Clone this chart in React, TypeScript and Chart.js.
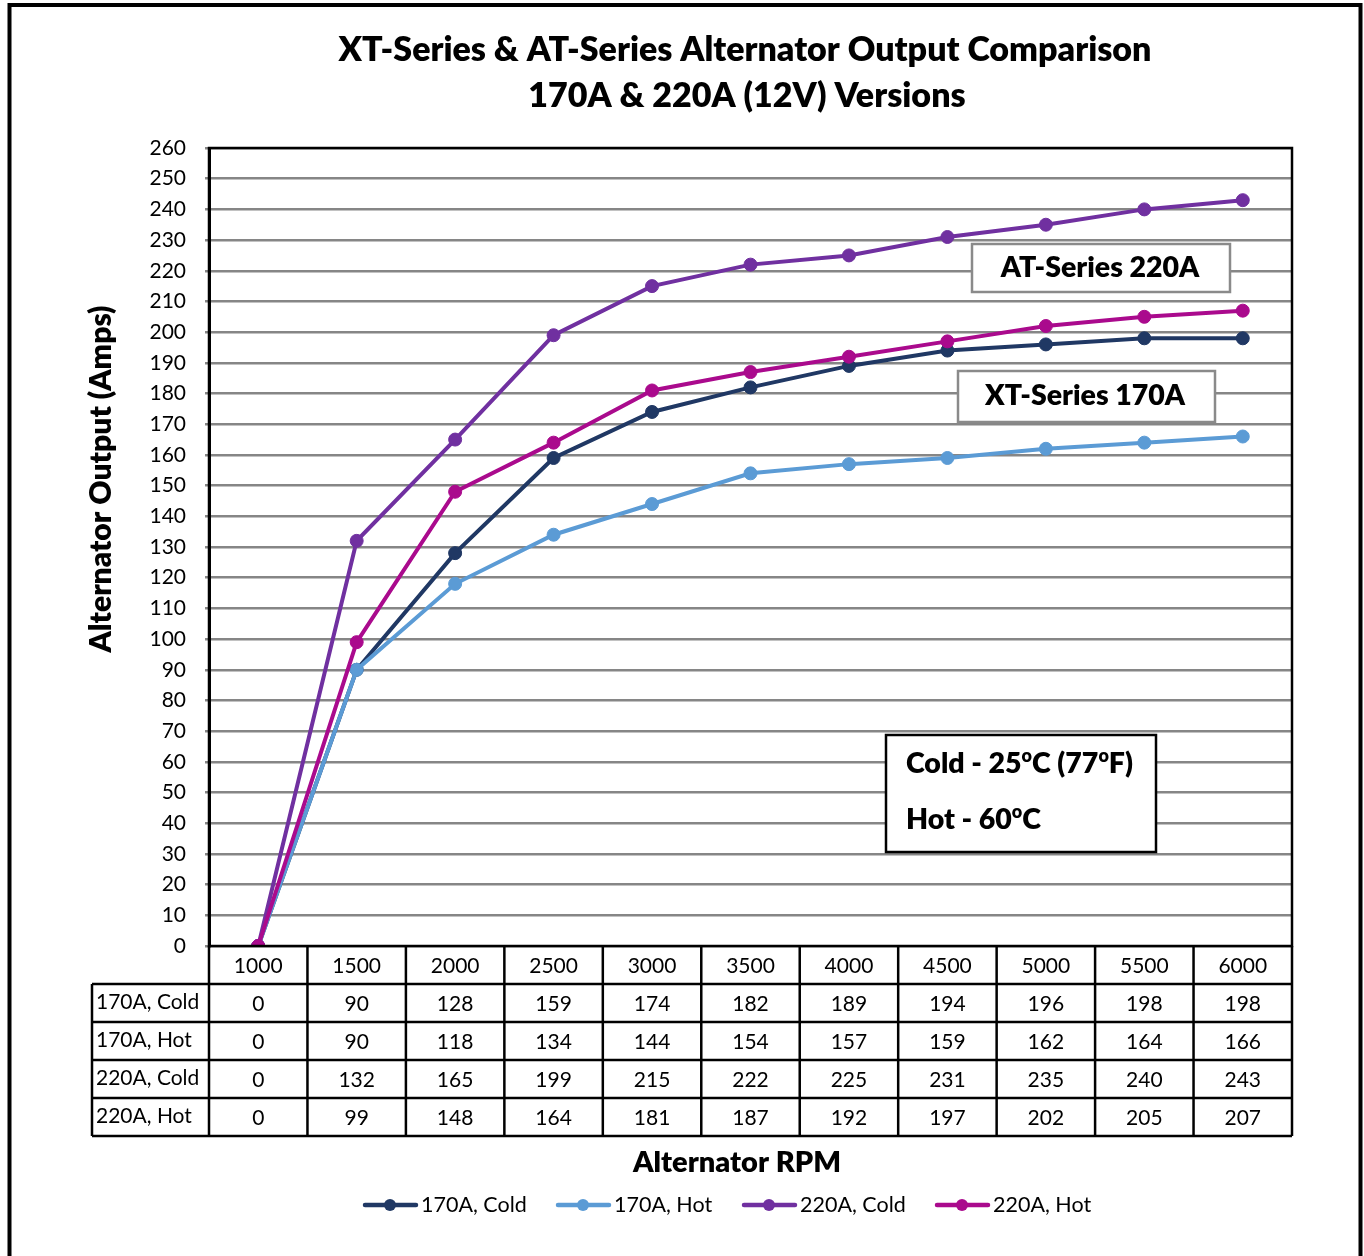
import React, { useEffect, useRef } from "react";
import { Chart, registerables } from "chart.js";

Chart.register(...registerables);

const categories = ["1000", "1500", "2000", "2500", "3000", "3500", "4000", "4500", "5000", "5500", "6000"];
const seriesNames = ["170A, Cold", "170A, Hot", "220A, Cold", "220A, Hot"];
const cold170 = [0, 90, 128, 159, 174, 182, 189, 194, 196, 198, 198];
const hot170 = [0, 90, 118, 134, 144, 154, 157, 159, 162, 164, 166];
const cold220 = [0, 132, 165, 199, 215, 222, 225, 231, 235, 240, 243];
const hot220 = [0, 99, 148, 164, 181, 187, 192, 197, 202, 205, 207];
const seriesColors = ["#203864", "#5B9BD5", "#7030A0", "#AA0A8D"];
const titleLines = ["XT-Series & AT-Series Alternator Output Comparison", "170A & 220A (12V) Versions"];
const yTitle = "Alternator Output (Amps)";
const xTitle = "Alternator RPM";
const yMin = 0;
const yMax = 260;
const yStep = 10;

const FONT = "Lato, 'Open Sans', sans-serif";
const BOLD = "800";

type Part = { t: string; sup?: boolean };

function drawRich(ctx: CanvasRenderingContext2D, parts: Part[], x: number, y: number, size: number) {
  let cx = x;
  ctx.textAlign = "left";
  ctx.textBaseline = "middle";
  for (const p of parts) {
    if (p.sup) {
      ctx.font = `${BOLD} ${Math.round(size * 0.62)}px ${FONT}`;
      ctx.fillText(p.t, cx, y - size * 0.28);
    } else {
      ctx.font = `${BOLD} ${size}px ${FONT}`;
      ctx.fillText(p.t, cx, y);
    }
    cx += ctx.measureText(p.t).width;
  }
}

const decorPlugin = {
  id: "decor",
  afterDraw(chart: any) {
    const ctx: CanvasRenderingContext2D = chart.ctx;
    const ca = chart.chartArea;
    const xs = chart.scales.x;
    ctx.save();

    // plot border
    ctx.strokeStyle = "#000";
    ctx.lineWidth = 2.5;
    ctx.strokeRect(ca.left, ca.top, ca.right - ca.left, ca.bottom - ca.top);

    // title
    ctx.fillStyle = "#000";
    ctx.textAlign = "center";
    ctx.textBaseline = "middle";
    ctx.font = `${BOLD} 34px ${FONT}`;
    ctx.fillText(titleLines[0], 745, 50);
    ctx.fillText(titleLines[1], 747, 96);

    // y title
    ctx.save();
    ctx.translate(101, 479);
    ctx.rotate(-Math.PI / 2);
    ctx.font = `${BOLD} 30px ${FONT}`;
    ctx.fillText(yTitle, 0, 0);
    ctx.restore();

    // data table
    const n = categories.length;
    const colW = (ca.right - ca.left) / n;
    const rowH = 38;
    const top = ca.bottom;
    const labelLeft = 92;
    const rows = [cold170, hot170, cold220, hot220];
    ctx.strokeStyle = "#000";
    ctx.lineWidth = 2.5;
    ctx.beginPath();
    for (let i = 0; i <= n; i++) {
      const x = ca.left + i * colW;
      ctx.moveTo(x, top);
      ctx.lineTo(x, top + rowH * 5);
    }
    ctx.moveTo(labelLeft, top + rowH);
    ctx.lineTo(labelLeft, top + rowH * 5);
    for (let r = 1; r <= 5; r++) {
      ctx.moveTo(labelLeft, top + rowH * r);
      ctx.lineTo(ca.right, top + rowH * r);
    }
    ctx.stroke();

    ctx.font = `21px ${FONT}`;
    ctx.textAlign = "center";
    ctx.textBaseline = "middle";
    for (let i = 0; i < n; i++) {
      const cx = xs.getPixelForValue(i);
      ctx.fillText(categories[i], cx, top + rowH * 0.5 + 1);
      for (let r = 0; r < rows.length; r++) {
        ctx.fillText(String(rows[r][i]), cx, top + rowH * (r + 1.5) + 1);
      }
    }
    ctx.textAlign = "left";
    for (let r = 0; r < rows.length; r++) {
      ctx.fillText(seriesNames[r], labelLeft + 4, top + rowH * (r + 1.5) - 1);
    }

    // x title
    ctx.textAlign = "center";
    ctx.font = `${BOLD} 29px ${FONT}`;
    ctx.fillText(xTitle, 737, 1163);

    // legend
    const legendX = [363, 556, 742, 935];
    ctx.font = `21.5px ${FONT}`;
    ctx.textAlign = "left";
    for (let i = 0; i < 4; i++) {
      const lx = legendX[i];
      ctx.strokeStyle = seriesColors[i];
      ctx.lineWidth = 4.5;
      ctx.lineCap = "round";
      ctx.beginPath();
      ctx.moveTo(lx + 2, 1205);
      ctx.lineTo(lx + 53, 1205);
      ctx.stroke();
      ctx.fillStyle = seriesColors[i];
      ctx.beginPath();
      ctx.arc(lx + 27, 1205, 6, 0, Math.PI * 2);
      ctx.fill();
      ctx.fillStyle = "#000";
      ctx.fillText(seriesNames[i], lx + 58, 1205);
    }
    ctx.lineCap = "butt";

    // label boxes
    const box = (x: number, y: number, w: number, h: number, color: string, lw: number) => {
      ctx.fillStyle = "#fff";
      ctx.fillRect(x, y, w, h);
      ctx.strokeStyle = color;
      ctx.lineWidth = lw;
      ctx.strokeRect(x, y, w, h);
    };
    box(972, 244, 258, 48, "#8a8a8a", 2.5);
    box(958, 371, 257, 51, "#8a8a8a", 2.5);
    box(886, 735, 270, 117, "#000", 2.5);
    ctx.fillStyle = "#000";
    ctx.textAlign = "center";
    ctx.textBaseline = "middle";
    ctx.font = `${BOLD} 28.5px ${FONT}`;
    ctx.fillText("AT-Series 220A", 1100, 268);
    ctx.fillText("XT-Series 170A", 1085, 396);
    drawRich(ctx, [{ t: "Cold - 25" }, { t: "o", sup: true }, { t: "C (77" }, { t: "o", sup: true }, { t: "F)" }], 906, 764, 28.5);
    drawRich(ctx, [{ t: "Hot - 60" }, { t: "o", sup: true }, { t: "C" }], 906, 820, 28.5);

    // outer frame
    ctx.strokeStyle = "#000";
    ctx.lineWidth = 4;
    ctx.strokeRect(9.5, 5, 1351, 1270);

    ctx.restore();
  },
};

export default function App() {
  const ref = useRef<HTMLCanvasElement | null>(null);
  useEffect(() => {
    if (!ref.current) return;
    const data = [cold170, hot170, cold220, hot220];
    const chart = new Chart(ref.current, {
      type: "line",
      data: {
        labels: categories,
        datasets: data.map((d, i) => ({
          label: seriesNames[i],
          data: d,
          borderColor: seriesColors[i],
          backgroundColor: seriesColors[i],
          pointBackgroundColor: seriesColors[i],
          pointBorderColor: seriesColors[i],
          borderWidth: 4,
          pointRadius: 6.5,
          pointBorderWidth: 1,
          tension: 0,
          order: 3 - i,
        })),
      },
      options: {
        responsive: false,
        animation: false,
        devicePixelRatio: 1,
        layout: { padding: { left: 109, top: 148, right: 72, bottom: 310 } },
        plugins: {
          legend: { display: false },
          title: { display: false },
          tooltip: { enabled: false },
        },
        scales: {
          x: {
            type: "category",
            offset: true,
            display: false,
          },
          y: {
            min: yMin,
            max: yMax,
            afterFit: (s: any) => {
              s.width = 100;
            },
            ticks: {
              stepSize: yStep,
              color: "#000",
              padding: 19,
              font: { family: FONT, size: 21 },
            },
            grid: {
              color: "#868686",
              lineWidth: 2.5,
              drawTicks: true,
              tickLength: 4,
            },
            border: { display: true, color: "#000", width: 3 },
          },
        },
      },
      plugins: [decorPlugin],
    });
    return () => chart.destroy();
  }, []);
  return (
    <div style={{ position: "absolute", left: 0, top: 0, width: 1364, height: 1256, background: "#fff" }}>
      <canvas ref={ref} width={1364} height={1256} style={{ width: 1364, height: 1256, display: "block" }} />
    </div>
  );
}
